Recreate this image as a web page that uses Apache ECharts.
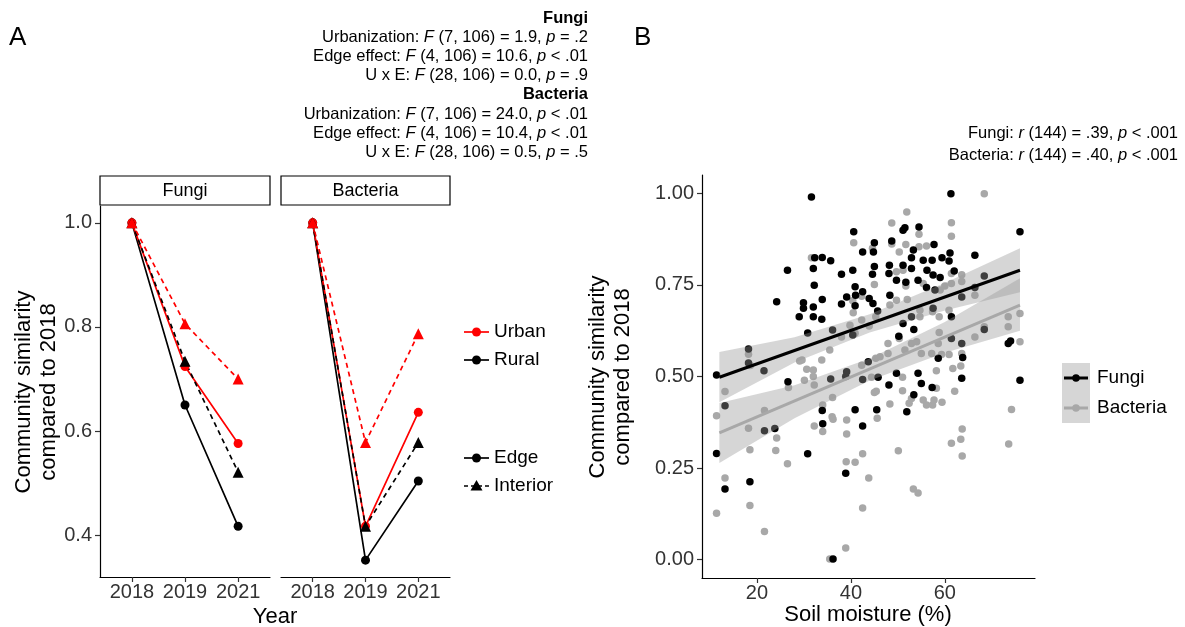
<!DOCTYPE html>
<html lang="en">
<head>
  <meta charset="UTF-8">
  <title>similarity</title>
  <script src="https://cdn.jsdelivr.net/npm/echarts@6/dist/echarts.min.js"></script>
  <style>
    * { padding: 0; margin: 0; }
    #box { width: 1185px; height: 627px; }
  </style>
</head>
<body>
  <div id="box"></div>
  <script>
    // ---- panel A: mean similarity to 2018, per year ----
    var years = ['2018', '2019', '2021'];
    var fungiUrbanEdge = [1.0, 0.724, 0.576];
    var fungiUrbanInterior = [1.0, 0.806, 0.700];
    var fungiRuralEdge = [1.0, 0.650, 0.417];
    var fungiRuralInterior = [1.0, 0.734, 0.521];
    var bactUrbanEdge = [1.0, 0.417, 0.636];
    var bactUrbanInterior = [1.0, 0.578, 0.787];
    var bactRuralEdge = [1.0, 0.352, 0.504];
    var bactRuralInterior = [1.0, 0.417, 0.578];

    // ---- panel B: soil moisture (%) vs similarity ----
    var fungiPoints = [
      [11.4, 0.504], [11.4, 0.29], [13.2, 0.42], [13.2, 0.193], [18.2, 0.575], [18.2, 0.537], [18.5, 0.213],
      [21.5, 0.516], [21.6, 0.352], [23.8, 0.358], [24.2, 0.704], [26.5, 0.79], [26.6, 0.486], [29.0, 0.663],
      [29.9, 0.701], [29.9, 0.686], [30.8, 0.619], [30.8, 0.289], [31.6, 0.99], [32.0, 0.795], [32.0, 0.69],
      [32.0, 0.663], [32.2, 0.749], [32.3, 0.824], [33.8, 0.656], [33.9, 0.825], [33.9, 0.71], [33.9, 0.407],
      [34.0, 0.371], [35.7, 0.816], [35.7, 0.493], [36.1, 0.627], [36.2, 0.002], [38.0, 0.779], [38.0, 0.698],
      [38.9, 0.50], [39.1, 0.717], [39.1, 0.513], [38.9, 0.236], [40.4, 0.79], [40.4, 0.613], [40.6, 0.895],
      [40.9, 0.745], [40.9, 0.693], [40.9, 0.409], [41.0, 0.722], [42.5, 0.84], [42.5, 0.731], [42.5, 0.492],
      [42.5, 0.365], [43.7, 0.54], [43.9, 0.713], [44.6, 0.779], [44.7, 0.699], [44.8, 0.84], [45.0, 0.865],
      [45.0, 0.80], [45.5, 0.409], [45.7, 0.679], [45.8, 0.498], [48.1, 0.781], [48.1, 0.477], [48.2, 0.804],
      [48.3, 0.722], [48.7, 0.87], [49.7, 0.763], [49.7, 0.509], [50.2, 0.61], [51.1, 0.899], [51.5, 0.906],
      [51.1, 0.804], [51.1, 0.645], [51.7, 0.757], [51.9, 0.404], [52.9, 0.824], [52.9, 0.795], [52.9, 0.663],
      [53.3, 0.845], [53.4, 0.628], [53.4, 0.45], [54.3, 0.763], [54.3, 0.509], [54.5, 0.908], [55.0, 0.481],
      [55.4, 0.817], [56.1, 0.743], [56.2, 0.79], [57.3, 0.817], [57.3, 0.47], [57.5, 0.777], [57.5, 0.686],
      [57.7, 0.86], [57.9, 0.736], [58.6, 0.55], [59.0, 0.77], [59.4, 0.824], [60.9, 0.815], [61.1, 0.837],
      [61.3, 0.999], [61.4, 0.663], [61.4, 0.604], [62.0, 0.788], [63.6, 0.717], [63.6, 0.59], [63.6, 0.495],
      [63.8, 0.552], [66.4, 0.831], [66.4, 0.743], [68.4, 0.774], [68.4, 0.628], [73.5, 0.59], [74.0, 0.597],
      [76.0, 0.895], [76.0, 0.49]
    ];
    var bacteriaPoints = [
      [11.4, 0.393], [11.4, 0.127], [13.2, 0.459], [13.2, 0.223], [18.2, 0.561], [18.6, 0.53], [18.2, 0.359],
      [18.5, 0.30], [18.5, 0.148], [21.6, 0.407], [21.6, 0.077], [24.2, 0.332], [24.0, 0.298], [26.7, 0.47],
      [26.5, 0.262], [29.1, 0.542], [29.6, 0.545], [30.1, 0.49], [30.6, 0.52], [31.6, 0.824], [32.0, 0.518],
      [32.0, 0.50], [32.2, 0.477], [32.2, 0.365], [33.8, 0.545], [34.0, 0.422], [34.0, 0.35], [35.5, 0.572],
      [35.5, 0.002], [36.1, 0.443], [36.0, 0.39], [36.2, 0.383], [38.0, 0.608], [38.9, 0.032], [39.0, 0.267],
      [39.1, 0.381], [39.1, 0.343], [39.8, 0.64], [40.4, 0.707], [40.5, 0.674], [40.6, 0.865], [40.9, 0.618],
      [40.9, 0.266], [42.3, 0.719], [42.3, 0.654], [42.3, 0.531], [42.5, 0.289], [42.5, 0.141], [43.8, 0.223],
      [43.9, 0.638], [44.4, 0.498], [44.6, 0.85], [45.0, 0.751], [45.0, 0.456], [45.4, 0.46], [45.3, 0.663],
      [45.3, 0.55], [45.6, 0.386], [46.2, 0.554], [47.9, 0.59], [47.9, 0.563], [48.3, 0.695], [48.3, 0.425],
      [48.7, 0.919], [48.7, 0.862], [49.7, 0.786], [49.7, 0.708], [50.1, 0.297], [50.3, 0.84], [50.3, 0.604],
      [51.0, 0.498], [51.0, 0.461], [51.1, 0.79], [51.5, 0.572], [51.7, 0.86], [51.7, 0.747], [51.9, 0.949],
      [52.0, 0.71], [52.4, 0.427], [52.9, 0.59], [52.9, 0.44], [53.3, 0.193], [54.0, 0.595], [54.3, 0.182],
      [54.5, 0.888], [54.5, 0.854], [54.7, 0.681], [54.7, 0.663], [55.0, 0.563], [55.4, 0.754], [55.4, 0.436],
      [56.1, 0.856], [56.1, 0.422], [57.2, 0.563], [57.4, 0.677], [57.4, 0.422], [57.7, 0.436], [58.2, 0.516],
      [58.2, 0.468], [58.6, 0.59], [58.8, 0.663], [58.8, 0.62], [59.0, 0.736], [59.3, 0.56], [59.4, 0.43],
      [60.0, 0.747], [60.9, 0.681], [60.9, 0.56], [61.4, 0.92], [61.4, 0.883], [61.4, 0.781], [61.4, 0.754],
      [61.4, 0.318], [61.7, 0.522], [62.1, 0.46], [63.4, 0.529], [63.4, 0.329], [63.6, 0.778], [63.6, 0.759],
      [63.6, 0.563], [63.7, 0.357], [63.7, 0.283], [66.4, 0.722], [66.4, 0.608], [68.4, 0.999], [68.4, 0.636],
      [73.5, 0.663], [73.5, 0.636], [73.6, 0.316], [74.2, 0.41], [76.0, 0.672], [76.0, 0.595]
    ];
    // fitted lines and their 95% bands
    var fitX = [12, 76];
    var fungiFit = [0.498, 0.79];
    var bacteriaFit = [0.346, 0.695];
    var bandX = [12, 28, 44, 60, 76];
    var fungiLo = [0.43, 0.538, 0.62, 0.68, 0.73];
    var fungiHi = [0.567, 0.607, 0.67, 0.755, 0.85];
    var bacteriaLo = [0.264, 0.386, 0.489, 0.565, 0.625];
    var bacteriaHi = [0.428, 0.476, 0.549, 0.649, 0.768];

    var FONT = '"Liberation Sans", Arial, sans-serif';
    var GREY = '#a8a8a8';
    var RED = '#ff0000';

    // layout
    var gA1 = { left: 100, top: 206, width: 170, height: 371 };
    var gA2 = { left: 281, top: 206, width: 169, height: 371 };
    var gB = { left: 702, top: 175, width: 333, height: 403 };

    function axisBase(grid, margin) {
      return {
        gridIndex: grid,
        type: 'value',
        splitLine: { show: false },
        axisLine: { show: true, onZero: false, lineStyle: { color: '#000', width: 1.2 } },
        axisTick: { show: true, length: 5, lineStyle: { color: '#333', width: 1.2 } },
        axisLabel: { color: '#333', fontSize: 20, fontFamily: FONT, margin: margin }
      };
    }
    function yearAxis(grid) {
      var a = axisBase(grid, 5);
      a.min = 0.4; a.max = 3.6;
      a.axisTick.customValues = [1, 2, 3];
      a.axisLabel.customValues = [1, 2, 3];
      a.axisLabel.formatter = function (v) { return years[Math.round(v) - 1]; };
      return a;
    }
    function simAxis(grid, show) {
      var a = axisBase(grid, 8);
      a.min = 0.3196; a.max = 1.0324;
      a.axisTick.customValues = [0.4, 0.6, 0.8, 1.0];
      a.axisLabel.customValues = [0.4, 0.6, 0.8, 1.0];
      a.axisLabel.formatter = function (v) { return v.toFixed(1); };
      if (!show) { a.axisTick.show = false; a.axisLabel.show = false; a.axisLine.show = false; }
      return a;
    }
    var xB = axisBase(2, 5);
    xB.min = 8.3; xB.max = 79.2;
    xB.axisTick.customValues = [20, 40, 60];
    xB.axisLabel.customValues = [20, 40, 60];
    var yB = axisBase(2, 8);
    yB.min = -0.05; yB.max = 1.05;
    yB.axisTick.customValues = [0, 0.25, 0.5, 0.75, 1];
    yB.axisLabel.customValues = [0, 0.25, 0.5, 0.75, 1];
    yB.axisLabel.formatter = function (v) { return v.toFixed(2); };

    var groups = [
      { color: '#000', dash: 'solid', symbol: 'circle', size: 9, f: fungiRuralEdge, b: bactRuralEdge },
      { color: RED, dash: 'solid', symbol: 'circle', size: 9, f: fungiUrbanEdge, b: bactUrbanEdge },
      { color: '#000', dash: [5, 4], symbol: 'triangle', size: 11, f: fungiRuralInterior, b: bactRuralInterior },
      { color: RED, dash: [5, 4], symbol: 'triangle', size: 11, f: fungiUrbanInterior, b: bactUrbanInterior }
    ];
    function toXY(vals) { return vals.map(function (v, i) { return [i + 1, v]; }); }

    var series = [];
    groups.forEach(function (g) {
      [[0, g.f], [1, g.b]].forEach(function (p) {
        series.push({
          type: 'line', xAxisIndex: p[0], yAxisIndex: p[0], data: toXY(p[1]), z: 2,
          showSymbol: false, silent: true,
          lineStyle: { color: g.color, width: 1.7, type: g.dash }
        });
      });
    });
    groups.forEach(function (g) {
      [[0, g.f], [1, g.b]].forEach(function (p) {
        series.push({
          type: 'scatter', xAxisIndex: p[0], yAxisIndex: p[0], data: toXY(p[1]), z: 3,
          symbol: g.symbol, symbolSize: g.size, silent: true,
          itemStyle: { color: g.color, opacity: 1 }
        });
      });
    });

    function band(lo, hi) {
      return {
        type: 'custom', xAxisIndex: 2, yAxisIndex: 2, z: 4, silent: true,
        data: [[40, 0.5]],
        renderItem: function (params, api) {
          var pts = [];
          for (var i = 0; i < bandX.length; i++) pts.push(api.coord([bandX[i], hi[i]]));
          for (var j = bandX.length - 1; j >= 0; j--) pts.push(api.coord([bandX[j], lo[j]]));
          return { type: 'polygon', shape: { points: pts }, style: { fill: 'rgba(153,153,153,0.4)' } };
        }
      };
    }
    function fitLine(vals, color) {
      return {
        type: 'line', xAxisIndex: 2, yAxisIndex: 2, z: 5, showSymbol: false, silent: true,
        data: fitX.map(function (x, i) { return [x, vals[i]]; }),
        lineStyle: { color: color, width: 3 }
      };
    }
    series.push({
      type: 'scatter', xAxisIndex: 2, yAxisIndex: 2, data: bacteriaPoints, z: 2, silent: true,
      symbolSize: 7.5, itemStyle: { color: GREY, opacity: 1 }
    });
    series.push({
      type: 'scatter', xAxisIndex: 2, yAxisIndex: 2, data: fungiPoints, z: 2, silent: true,
      symbolSize: 7.5, itemStyle: { color: '#000', opacity: 1 }
    });
    series.push(band(fungiLo, fungiHi));
    series.push(band(bacteriaLo, bacteriaHi));
    series.push(fitLine(fungiFit, '#000'));
    series.push(fitLine(bacteriaFit, GREY));

    // ---- text, strips, legends ----
    var STAT = 16.5;
    var rich = { i: { fontStyle: 'italic', fontSize: STAT, fontFamily: FONT, fill: '#000' } };
    function txt(x, y, s, size, align, extra) {
      var st = { text: s, x: 0, y: 0, fill: '#000', fontSize: size, fontFamily: FONT,
        align: align || 'left', verticalAlign: 'middle', rich: rich };
      if (extra) for (var k in extra) st[k] = extra[k];
      return { type: 'text', x: x, y: y, style: st, silent: true };
    }
    var statsA = [
      ['Fungi', true], ['Urbanization: {i|F} (7, 106) = 1.9, {i|p} = .2'],
      ['Edge effect: {i|F} (4, 106) = 10.6, {i|p} < .01'], ['U x E: {i|F} (28, 106) = 0.0, {i|p} = .9'],
      ['Bacteria', true], ['Urbanization: {i|F} (7, 106) = 24.0, {i|p} < .01'],
      ['Edge effect: {i|F} (4, 106) = 10.4, {i|p} < .01'], ['U x E: {i|F} (28, 106) = 0.5, {i|p} = .5']
    ];
    var graphics = [];
    statsA.forEach(function (s, i) {
      graphics.push(txt(588, 18 + i * 19.2, s[0], STAT, 'right', s[1] ? { fontWeight: 'bold' } : null));
    });
    graphics.push(txt(1178, 133, 'Fungi: {i|r} (144) = .39, {i|p} < .001', STAT, 'right'));
    graphics.push(txt(1178, 155, 'Bacteria: {i|r} (144) = .40, {i|p} < .001', STAT, 'right'));
    graphics.push(txt(9, 38, 'A', 26, 'left'));
    graphics.push(txt(634, 38, 'B', 26, 'left'));

    // facet strips
    [[gA1, 'Fungi'], [gA2, 'Bacteria']].forEach(function (p) {
      var g = p[0];
      graphics.push({ type: 'rect', shape: { x: g.left, y: 176, width: g.width, height: 29 },
        style: { fill: '#fff', stroke: '#000', lineWidth: 1.2 }, silent: true });
      graphics.push(txt(g.left + g.width / 2, 191, p[1], 18, 'center'));
    });

    // axis titles
    var TITLE = 22;
    graphics.push(txt(275, 617, 'Year', TITLE, 'center'));
    graphics.push(txt(868, 615, 'Soil moisture (%)', TITLE, 'center'));
    graphics.push({ type: 'text', x: 36, y: 392, rotation: Math.PI / 2, silent: true,
      style: { text: 'Community similarity\ncompared to 2018', fontSize: TITLE, fontFamily: FONT, fill: '#000',
        align: 'center', verticalAlign: 'middle', lineHeight: 25 } });
    graphics.push({ type: 'text', x: 610, y: 377, rotation: Math.PI / 2, silent: true,
      style: { text: 'Community similarity\ncompared to 2018', fontSize: TITLE, fontFamily: FONT, fill: '#000',
        align: 'center', verticalAlign: 'middle', lineHeight: 25 } });

    // panel A legend keys
    function keyA(y, color, dash, symbol, label) {
      graphics.push({ type: 'line', shape: { x1: 464, y1: y, x2: 489, y2: y }, silent: true,
        style: { stroke: color, lineWidth: 1.7, lineDash: dash } });
      if (symbol === 'circle') {
        graphics.push({ type: 'circle', shape: { cx: 476.5, cy: y, r: 4.5 }, style: { fill: color }, silent: true });
      } else {
        graphics.push({ type: 'polygon', shape: { points: [[476.5, y - 6], [470.5, y + 4.5], [482.5, y + 4.5]] },
          style: { fill: color }, silent: true });
      }
      graphics.push(txt(494, y, label, 19, 'left'));
    }
    keyA(332, RED, null, 'circle', 'Urban');
    keyA(360, '#000', null, 'circle', 'Rural');
    keyA(458, '#000', null, 'circle', 'Edge');
    keyA(486, '#000', [4, 3], 'triangle', 'Interior');

    // panel B legend keys
    function keyB(y, color, label) {
      graphics.push({ type: 'rect', shape: { x: 1062, y: y - 15, width: 28, height: 30 },
        style: { fill: 'rgba(153,153,153,0.4)' }, silent: true });
      graphics.push({ type: 'line', shape: { x1: 1064, y1: y, x2: 1088, y2: y },
        style: { stroke: color, lineWidth: 3 }, silent: true });
      graphics.push({ type: 'circle', shape: { cx: 1076, cy: y, r: 3.75 }, style: { fill: color }, silent: true });
      graphics.push(txt(1097, y, label, 19, 'left'));
    }
    keyB(378, '#000', 'Fungi');
    keyB(408, GREY, 'Bacteria');

    var mCharts = echarts.init(document.getElementById('box'));
    var option = {
      backgroundColor: '#fff',
      animation: false,
      grid: [gA1, gA2, gB],
      xAxis: [yearAxis(0), yearAxis(1), xB],
      yAxis: [simAxis(0, true), simAxis(1, false), yB],
      series: series,
      graphic: graphics
    };
    mCharts.setOption(option);
  </script>
</body>
</html>
